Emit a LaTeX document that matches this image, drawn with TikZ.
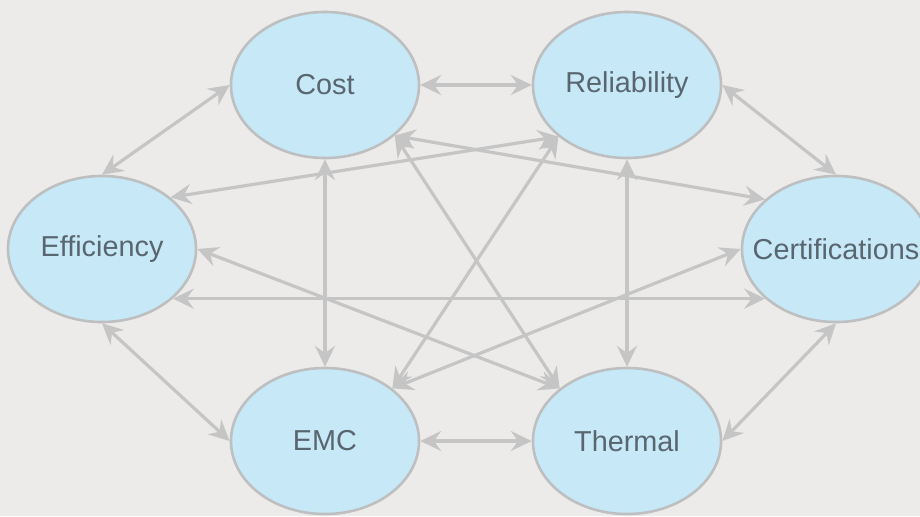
\documentclass[tikz,border=0pt]{standalone}
\usepackage{fontspec}
\setmainfont{Liberation Sans}
\usetikzlibrary{shapes.geometric,arrows.meta}
\definecolor{bubble}{HTML}{C7E8F7}
\definecolor{rim}{HTML}{BDBFC1}
\definecolor{wire}{HTML}{C5C5C5}
\definecolor{ink}{HTML}{59666F}
\definecolor{paper}{HTML}{ECEBEA}

\begin{document}
\begin{tikzpicture}[x=0.025cm, y=-0.025cm,
  topic/.style={ellipse, draw=rim, fill=bubble, line width=0.065cm,
    minimum width=4.7cm, minimum height=3.65cm, inner sep=0pt,
    label={[text=ink, font=\fontsize{20.5}{24}\selectfont]center:#1}},
  link/.style={draw=wire, line width=0.08cm,
    {Stealth[length=0.52cm, width=0.5cm, inset=0.18cm]}-{Stealth[length=0.52cm, width=0.5cm, inset=0.18cm]}}]
\fill[paper] (0,0) rectangle (920,516);
\clip (0,0) rectangle (920,516);

\node[topic=Cost] (cost) at (325,85) {};
\node[topic=Reliability] (rel) at (627,85) {};
\node[topic=Efficiency] (eff) at (102,249) {};
\node[topic=Certifications] (cert) at (836,249) {};
\node[topic=EMC] (emc) at (325,441) {};
\node[topic=Thermal] (therm) at (627,441) {};

\draw[link] (cost.east) -- (rel.west);
\draw[link] (emc.east) -- (therm.west);
\draw[link] (cost.west) -- (eff.north);
\draw[link] (rel.east) -- (cert.north);
\draw[link] (eff.south) -- (emc.west);
\draw[link] (cert.south) -- (therm.east);
\draw[link] (cost.south) -- (emc.north);
\draw[link] (rel.south) -- (therm.north);
\draw[link] (cost.-36) -- (therm.142);
\draw[link] (cost.-36) -- (cert.145);
\draw[link] (rel.-143) -- (emc.38);
\draw[link] (rel.-143) -- (eff.37);
\draw[link] (eff.east) -- (therm.142);
\draw[link] (cert.west) -- (emc.38);
\draw[link] (eff.-35) -- (cert.-145);
\end{tikzpicture}
\end{document}
